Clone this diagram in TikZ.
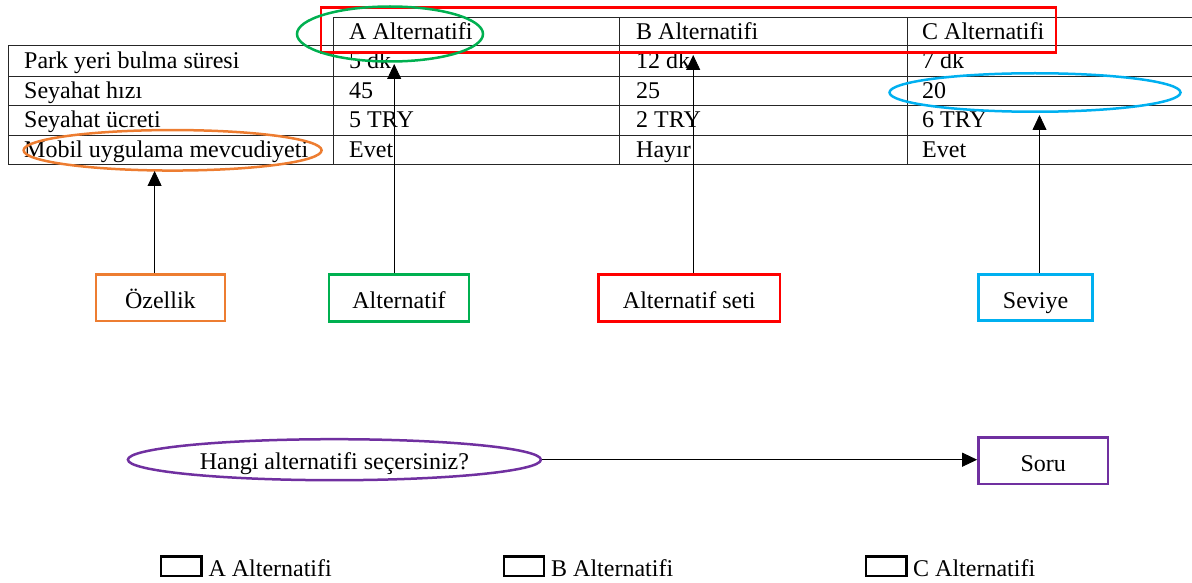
\documentclass[tikz,border=0pt]{standalone}
\usepackage{fontspec}
\setmainfont{Liberation Serif}
\usetikzlibrary{arrows.meta,shapes.geometric}
\definecolor{corange}{HTML}{ED7D31}
\definecolor{cgreen}{HTML}{00B050}
\definecolor{cred}{HTML}{FF0000}
\definecolor{cblue}{HTML}{00B0F0}
\definecolor{cpurple}{HTML}{7030A0}
\begin{document}
\begin{tikzpicture}[x=1pt,y=-1pt,font=\fontsize{24}{28}\selectfont,
  cell/.style={anchor=base west,inner sep=0pt},
  lbox/.style={draw,line width=2.8pt,minimum height=46.5pt,inner sep=0pt,align=center,text height=21pt,text depth=0pt},
  ring/.style={draw,ellipse,line width=2.5pt,inner sep=0pt},
  conn/.style={-{Triangle[width=14pt,length=15pt]},line width=0.8pt},
  tline/.style={line width=1pt,draw=black!85},
  chk/.style={draw,line width=2.2pt,inner sep=0pt,minimum width=40.5pt,minimum height=19.5pt}]
\useasboundingbox (0,0) rectangle (1192,583);
% table lines
\draw[tline] (333,17.5) -- (1192,17.5);
\foreach \yy in {46,76.3,105.5,135.3,164.7} \draw[tline] (8,\yy) -- (1192,\yy);
\draw[tline] (8,46) -- (8,164.7);
\foreach \xx in {333,619,907.5} \draw[tline] (\xx,17.5) -- (\xx,164.7);
% table texts
\node[cell] (hA) at (349,40) {A Alternatifi};
\node[cell] (hB) at (636,40) {B Alternatifi};
\node[cell] (hC) at (922,40) {C Alternatifi};
\node[cell] (r1) at (24,69) {Park yeri bulma süresi};
\node[cell] (r2) at (24,98.5) {Seyahat hızı};
\node[cell] (r3) at (24,128) {Seyahat ücreti};
\node[cell] (r4) at (24,157.5) {Mobil uygulama mevcudiyeti};
\node[cell] (a1) at (349,69) {5 dk};
\node[cell] (a2) at (349,98.5) {45};
\node[cell] (a3) at (349,128) {5 TRY};
\node[cell] (a4) at (349,157.5) {Evet};
\node[cell] (b1) at (636,69) {12 dk};
\node[cell] (b2) at (636,98.5) {25};
\node[cell] (b3) at (636,128) {2 TRY};
\node[cell] (b4) at (636,157.5) {Hayır};
\node[cell] (c1) at (922,69) {7 dk};
\node[cell] (c2) at (922,98.5) {20};
\node[cell] (c3) at (922,128) {6 TRY};
\node[cell] (c4) at (922,157.5) {Evet};
% highlight shapes
\node[draw=cred,line width=2.8pt,inner sep=0pt,minimum width=735pt,minimum height=45pt] (setbox) at (688.4,29.8) {};
\node[ring,draw=cgreen,minimum width=186pt,minimum height=55pt] (ringA) at (390,34) {};
\node[ring,draw=cblue,minimum width=291pt,minimum height=38.5pt] (ringL) at (1035,92.5) {};
\node[ring,draw=corange,minimum width=298pt,minimum height=40.5pt] (ringF) at (172.6,150.3) {};
% label boxes
\node[lbox,draw=corange,minimum width=129pt] (ozellik) at (160.4,297.7) {Özellik};
\node[lbox,draw=cgreen,minimum width=140pt] (alt) at (399,298) {Alternatif};
\node[lbox,draw=cred,minimum width=181.5pt] (altset) at (689.3,298) {Alternatif seti};
\node[lbox,draw=cblue,minimum width=114pt] (seviye) at (1035.6,297.5) {Seviye};
% arrow tips
\coordinate (tipF) at (154.6,171);
\coordinate (tipA) at (394.2,64);
\coordinate (tipS) at (693.2,55);
\coordinate (tipL) at (1039.5,115);
\draw[conn] (ozellik.north -| tipF) -- (tipF);
\draw[conn] (alt.north -| tipA) -- (tipA);
\draw[conn] (altset.north -| tipS) -- (tipS);
\draw[conn] (seviye.north -| tipL) -- (tipL);
% question
\node[ring,draw=cpurple,minimum width=413pt,minimum height=41pt,text height=20pt,text depth=0pt] (hangi) at (334.4,459.7) {Hangi alternatifi seçersiniz?};
\node[lbox,draw=cpurple,minimum width=129.5pt] (soru) at (1043.3,460.7) {Soru};
\draw[conn] (hangi.east) -- (hangi.east -| soru.west);
% answer boxes
\node[chk] (boxA) at (181.2,566.3) {};
\node[chk] (boxB) at (524.1,566.3) {};
\node[chk] (boxC) at (886.2,566.3) {};
\node[cell] (optA) at (208.3,576) {A Alternatifi};
\node[cell] (optB) at (551,576) {B Alternatifi};
\node[cell] (optC) at (913,576) {C Alternatifi};
\end{tikzpicture}
\end{document}
